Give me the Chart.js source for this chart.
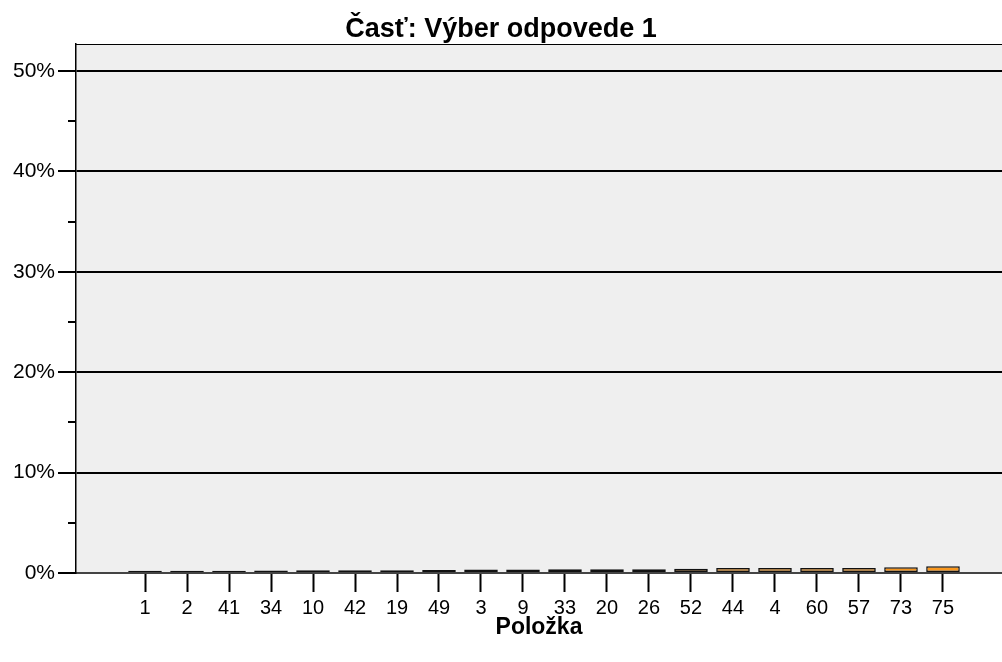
<!DOCTYPE html>
<html>
<head>
<meta charset="utf-8">
<script src="https://cdn.jsdelivr.net/npm/chart.js@4.4.1/dist/chart.umd.min.js"></script>
<style>
  html, body { margin: 0; padding: 0; background: #ffffff; }
  #wrap { width: 1002px; height: 662px; }
</style>
</head>
<body>
<div id="wrap"><canvas id="graf" width="1002" height="662"></canvas></div>
<script>
// Údaje grafu
var polozky = ['1', '2', '41', '34', '10', '42', '19', '49', '3', '9', '33', '20', '26', '52', '44', '4', '60', '57', '73', '75'];
var percenta = [0.22, 0.22, 0.22, 0.24, 0.27, 0.27, 0.27, 0.30, 0.35, 0.35, 0.38, 0.38, 0.38, 0.43, 0.50, 0.50, 0.50, 0.51, 0.57, 0.68];
var yZnacky = [0, 10, 20, 30, 40, 50];
var yMale = [5, 15, 25, 35, 45];

// farba stĺpca podľa hodnoty (tmavá -> oranžová)
function farba(v) {
    var min = Math.min.apply(null, percenta);
    var max = Math.max.apply(null, percenta);
    var t = (v - min) / (max - min);
    t = Math.min(1, Math.pow(t, 0.75) * 1.2);
    var a = [24, 20, 16], b = [250, 152, 30];
    var c = a.map(function(x, i) { return Math.round(x + (b[i] - x) * t); });
    return 'rgb(' + c.join(',') + ')';
}

var pozadie = {
    id: 'pozadie',
    beforeDraw: function(chart) {
        var c = chart.ctx, a = chart.chartArea;
        c.save();
        c.fillStyle = '#efefef';
        c.fillRect(a.left, a.top, a.right - a.left, a.bottom - a.top);
        c.strokeStyle = '#000';
        c.lineWidth = 1;
        c.beginPath();
        c.moveTo(a.left, a.top + 0.5);
        c.lineTo(a.right, a.top + 0.5);
        c.stroke();
        c.restore();
    },
    afterDraw: function(chart) {
        var c = chart.ctx, y = chart.scales.y, a = chart.chartArea;
        c.save();
        c.strokeStyle = '#000';
        c.lineWidth = 2;
        yMale.forEach(function(v) {
            var py = Math.round(y.getPixelForValue(v));
            c.beginPath();
            c.moveTo(a.left - 8, py);
            c.lineTo(a.left, py);
            c.stroke();
        });
        c.restore();
    }
};

var ctx = document.getElementById('graf').getContext('2d');
new Chart(ctx, {
    type: 'bar',
    data: {
        datasets: [{
            data: polozky.map(function(p, i) { return { x: i, y: percenta[i] }; }),
            backgroundColor: percenta.map(farba),
            borderColor: '#111',
            borderWidth: 1.5,
            borderSkipped: false,
            barPercentage: 0.8,
            categoryPercentage: 1
        }]
    },
    options: {
        responsive: false,
        animation: false,
        layout: { padding: { left: 0, right: 0, top: 0, bottom: 0 } },
        plugins: {
            legend: { display: false },
            tooltip: { enabled: false },
            title: {
                display: true,
                text: 'Časť: Výber odpovede 1',
                color: '#000',
                font: { family: 'Liberation Sans, Arial, sans-serif', size: 27, weight: 'bold', lineHeight: 1 },
                padding: { top: 16, bottom: 1 }
            }
        },
        scales: {
            x: {
                type: 'linear',
                min: -1.643,
                max: 20.405,
                offset: false,
                afterBuildTicks: function(s) {
                    s.ticks = polozky.map(function(p, i) { return { value: i }; });
                },
                afterFit: function(s) { s.height = 89; },
                grid: {
                    drawOnChartArea: false,
                    offset: false,
                    tickLength: 19,
                    tickWidth: 2,
                    tickColor: '#000'
                },
                border: { display: true, color: '#444', width: 2 },
                ticks: {
                    autoSkip: false,
                    maxRotation: 0,
                    padding: 4,
                    color: '#000',
                    font: { family: 'Liberation Sans, Arial, sans-serif', size: 20 },
                    callback: function(v) { return polozky[v]; }
                },
                title: {
                    display: true,
                    text: 'Položka',
                    color: '#000',
                    font: { family: 'Liberation Sans, Arial, sans-serif', size: 23, weight: 'bold' },
                    padding: { top: 0, bottom: 21 }
                }
            },
            y: {
                min: 0,
                max: 52.69,
                afterBuildTicks: function(s) {
                    s.ticks = yZnacky.map(function(v) { return { value: v }; });
                },
                afterFit: function(s) { s.width = 76; },
                grid: {
                    color: '#000',
                    lineWidth: 2,
                    tickLength: 18,
                    tickWidth: 2,
                    tickColor: '#000'
                },
                border: { display: true, color: '#000', width: 1.5 },
                ticks: {
                    padding: 3,
                    color: '#000',
                    font: { family: 'Liberation Sans, Arial, sans-serif', size: 21 },
                    callback: function(v) { return v + '%'; }
                }
            }
        }
    },
    plugins: [pozadie]
});
</script>
</body>
</html>
